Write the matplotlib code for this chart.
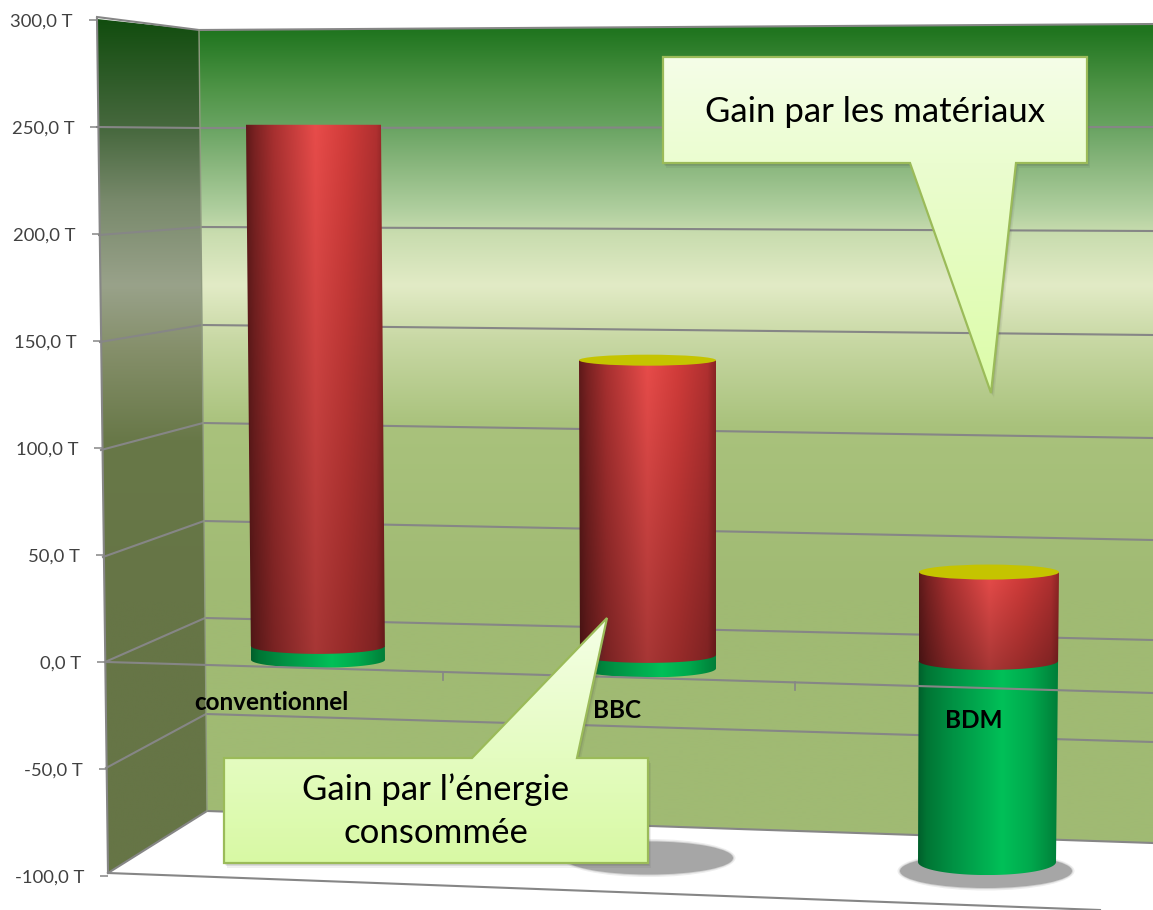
import numpy as np
import matplotlib
matplotlib.use("Agg")
import matplotlib.pyplot as plt
from matplotlib.colors import to_rgb
from matplotlib.patches import Ellipse, Polygon, PathPatch
from matplotlib.path import Path
from matplotlib.transforms import ScaledTranslation

plt.rcParams['font.family'] = ['Lato', 'DejaVu Sans']

# data, in tonnes
categories = ["conventionnel", "BBC", "BDM"]
red_top = [251, 141, 42]
green_top = [7.5, 3.3, 0.5]
green_bottom = [1, -3, -93.5]
tick_values = [300, 250, 200, 150, 100, 50, 0, -50, -100]
tick_labels = ["300,0 T", "250,0 T", "200,0 T", "150,0 T", "100,0 T", "50,0 T", "0,0 T", "-50,0 T", "-100,0 T"]

W, H = 1153, 910
GRID = "#868686"

fig = plt.figure(figsize=(W / 100, H / 100), dpi=100, facecolor="white")


def canvas(z):
   a = fig.add_axes([0, 0, 1, 1], zorder=z)
   a.set_xlim(0, W)
   a.set_ylim(H, 0)
   a.axis("off")
   return a


def fade(stops, pos):
   xs = [s[0] for s in stops]
   cols = np.array([to_rgb(s[1]) for s in stops])
   return np.stack([np.interp(pos, xs, cols[:, i]) for i in range(3)], axis=-1)


def fill_vertical(a, poly, stops, z=0):
   # gradient running down the page, clipped on the polygon
   pts = np.array(poly)
   y0, y1 = pts[:, 1].min(), pts[:, 1].max()
   pos = np.linspace(y0, y1, 500)
   img = fade(stops, pos)[:, None, :]
   im = a.imshow(img, extent=(pts[:, 0].min(), pts[:, 0].max(), y1, y0), aspect="auto", interpolation="bilinear", zorder=z)
   im.set_clip_path(Polygon(poly, closed=True, transform=a.transData))
   a.set_xlim(0, W)
   a.set_ylim(H, 0)


# walls and floor
bg = canvas(0)
back_wall_stops = [(30, "#20751f"), (90, "#509548"), (128, "#6aa463"), (165, "#8ab77e"), (210, "#b0cf9f"),
                   (232, "#c8dcae"), (285, "#e2ebc6"), (340, "#c8d8a4"), (425, "#a9c27c"), (600, "#a0ba73")]
side_wall_stops = [(20, "#124d0f"), (130, "#48693f"), (200, "#78896b"), (285, "#99a28a"), (350, "#858f6a"),
                   (440, "#687848"), (600, "#667546")]
fill_vertical(bg, [(199, 30), (W, 24), (W, 843), (207, 811)], back_wall_stops)
fill_vertical(bg, [(97, 19), (199, 30), (207, 811), (108, 873)], side_wall_stops)

front_x = [97, 97, 99, 100, 101, 103, 105, 106, 108]
front_y = [17, 127, 235, 342, 450, 557, 662, 768, 873]
corner_x = [199, 200, 202, 202, 203, 204, 205, 206, 207]
corner_y = [30, 128, 227, 325, 423, 521, 618, 714, 811]
right_y = [24, 127, 231, 335, 438, 540, 640, 742, 843]
for i in range(len(front_x)):
   bg.plot([front_x[i], corner_x[i], W], [front_y[i], corner_y[i], right_y[i]], color=GRID, lw=1.5)
bg.plot([97, 108], [19, 873], color=GRID, lw=1.5)
bg.plot([199, 207], [30, 811], color="#8f9a80", lw=1.0)
bg.plot([108, 1100], [873, 910], color=GRID, lw=1.5)

# shadows on the floor
shadow_x = [320, 649, 986]
shadow_y = [845, 858, 871]
shadow_w = [165, 168, 172]
shadow_h = [32, 33, 34]
for i in range(3):
   for grow, al in [(5, 0.2), (2, 0.4), (0, 1.0)]:
      bg.add_patch(Ellipse((shadow_x[i], shadow_y[i]), shadow_w[i] + grow, shadow_h[i] + grow, fc="#a6a6a6", ec="none", alpha=al))

# value axis with the cylinders
vax = fig.add_axes([108 / W, 0, 1 - 108 / W, 1], zorder=1)
vax.patch.set_alpha(0)
for s in vax.spines.values():
   s.set_visible(False)
vax.set_xlim(108, W)
vax.set_ylim(-115.9, 309.3)
vax.set_xticks([])
vax.set_yticks(tick_values)
vax.set_yticklabels(tick_labels, fontsize=13.3, color="#404040")
vax.tick_params(axis="y", length=5.8, width=1.1, color=GRID, pad=11.5)
PX = 2.14  # pixels per tonne

for tick, lab, v in zip(vax.yaxis.get_major_ticks(), vax.get_yticklabels(), tick_values):
   dx = -(v + 100) / 400 * 11 / 100
   shift = ScaledTranslation(dx, 0, fig.dpi_scale_trans)
   lab.set_transform(lab.get_transform() + shift)
   tick.tick1line.set_transform(tick.tick1line.get_transform() + shift)

red_stops = [(0, "#5f1a1a"), (0.06, "#7a2222"), (0.2, "#a83030"), (0.5, "#e84c4a"), (0.72, "#d23c3a"), (0.94, "#b03030"), (1, "#8a2424")]
green_stops = [(0, "#005f2b"), (0.06, "#007534"), (0.25, "#009244"), (0.6, "#00c058"), (0.8, "#00a94d"), (1, "#007d38")]

cyl_x_top = [313.5, 647.5, 989]
cyl_x_bot = [318, 648, 987]
cyl_w_top = [135, 137, 140]
cyl_w_bot = [134, 136, 138]
top_ry = [0, 5.5, 7.5]
split_ry = [8, 8, 9]
bottom_ry = [8, 9, 13]


def cylinder(cx0, cx1, w0, w1, v0, v1, ry, stops, dim):
   t = np.linspace(0, np.pi, 60)
   xs = cx1 + w1 / 2 * np.cos(t)
   ys = v1 - ry / PX * np.sin(t)
   verts = [(cx0 - w0 / 2, v0)] + list(zip(xs[::-1], ys[::-1])) + [(cx0 + w0 / 2, v0), (cx0 - w0 / 2, v0)]
   clip = PathPatch(Path(verts), transform=vax.transData, fc="none", ec="none")
   left = min(cx0 - w0 / 2, cx1 - w1 / 2)
   right = max(cx0 + w0 / 2, cx1 + w1 / 2)
   low = v1 - ry / PX
   across = fade(stops, np.linspace(0, 1, 200))
   down = np.interp(np.linspace(0, 1, 300), [0, 1], [1, dim])
   img = across[None, :, :] * down[:, None, None]
   im = vax.imshow(img, extent=(left, right, low, v0), aspect="auto", interpolation="bilinear")
   im.set_clip_path(clip)


for i in range(3):
   span = red_top[i] - green_bottom[i]
   f = (red_top[i] - green_top[i]) / span
   cx_s = cyl_x_top[i] + (cyl_x_bot[i] - cyl_x_top[i]) * f
   w_s = cyl_w_top[i] + (cyl_w_bot[i] - cyl_w_top[i]) * f
   cylinder(cx_s, cyl_x_bot[i], w_s, cyl_w_bot[i], green_top[i], green_bottom[i], bottom_ry[i], green_stops, 1.0)
   cylinder(cyl_x_top[i], cx_s, cyl_w_top[i], w_s, red_top[i], green_top[i], split_ry[i], red_stops, 0.72)
   if top_ry[i] > 0:
      vax.add_patch(Ellipse((cyl_x_top[i], red_top[i]), cyl_w_top[i], 2 * top_ry[i] / PX, fc="#c5c400", ec="none"))

vax.set_xlim(108, W)
vax.set_ylim(-115.9, 309.3)

# front axis, labels and callouts go on top
fg = canvas(2)
fg.plot([107, W], [662, 693], color=GRID, lw=1.5, zorder=1)
for x0, y0 in [(443, 672), (795, 682)]:
   fg.plot([x0, x0], [y0, y0 + 8], color=GRID, lw=1.2, zorder=1)

label_x = [271, 617, 974]
label_y = [703, 711, 720]
for i in range(3):
   fg.text(label_x[i], label_y[i], categories[i], ha="center", va="center", fontsize=17.5, fontweight="bold", color="black", zorder=2)


def callout(poly, stops):
   for off, al in [(5, 0.08), (3, 0.12), (1.5, 0.18)]:
      fg.add_patch(Polygon([(x + off * 0.6, y + off) for x, y in poly], closed=True, fc="#404040", ec="none", alpha=al, zorder=3))
   fill_vertical(fg, poly, stops, z=4)
   fg.add_patch(Polygon(poly, closed=True, fc="none", ec="#9bbb59", lw=1.6, joinstyle="miter", zorder=5))


callout([(663, 57), (1087, 57), (1087, 163), (1016, 163), (991, 393), (910, 163), (663, 163)],
        [(57, "#f5fee8"), (163, "#ebfdd0"), (393, "#dcfca8")])
fg.text(875, 112, "Gain par les matériaux", ha="center", va="center", fontsize=25, color="black", zorder=6)

callout([(224, 758), (472, 758), (607, 618), (577, 758), (648, 758), (648, 863), (224, 863)],
        [(618, "#f5ffe6"), (758, "#e4fcc0"), (863, "#d8f9a4")])
fg.text(436, 790, "Gain par l’énergie", ha="center", va="center", fontsize=25, color="black", zorder=6)
fg.text(436, 833, "consommée", ha="center", va="center", fontsize=25, color="black", zorder=6)

fig.savefig("out.png", dpi=100)
